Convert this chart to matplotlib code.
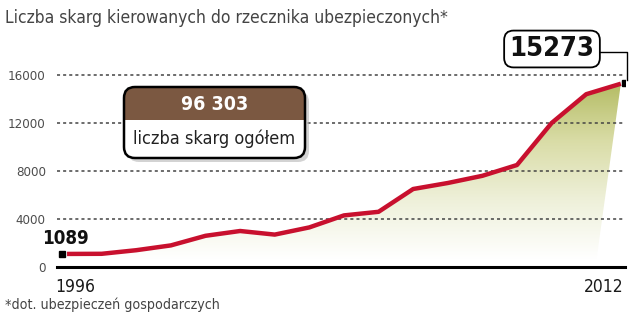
import numpy as np
import matplotlib
matplotlib.use("Agg")
import matplotlib.pyplot as plt
from matplotlib.colors import LinearSegmentedColormap
from matplotlib.patches import FancyBboxPatch, Polygon
from matplotlib.transforms import Affine2D, ScaledTranslation

years = np.arange(1996, 2013)
complaints = [1089, 1100, 1400, 1800, 2600, 3000, 2700, 3300, 4300, 4600,
              6500, 7000, 7600, 8500, 12000, 14400, 15273]
y_ticks = [0, 4000, 8000, 12000, 16000]
title = "Liczba skarg kierowanych do rzecznika ubezpieczonych*"
footnote = "*dot. ubezpieczeń gospodarczych"
total_label = "96 303"
total_caption = "liczba skarg ogółem"

FONT = dict(family="DejaVu Sans", fontstretch="condensed")
W, H = 639, 326

fig = plt.figure(figsize=(W / 100, H / 100), dpi=100)
# pixel coords with origin at top-left
px = Affine2D().scale(1, -1).translate(0, H).scale(1 / W, 1 / H) + fig.transFigure

ax = fig.add_axes([57 / W, (H - 267) / H, 568 / W, 207 / H])

# gradient area under the curve
poly_pts = list(zip(years, complaints)) + [(2011.3, 700), (years[0], 700)]
clip = Polygon(poly_pts, closed=True, transform=ax.transData, facecolor="none", edgecolor="none")
ax.add_patch(clip)
cmap = LinearSegmentedColormap.from_list("olive", ["#ffffff", "#eef0d9", "#d9dca6", "#b3bb62"])
grad = np.linspace(0, 1, 256).reshape(-1, 1)
im = ax.imshow(grad, cmap=cmap, origin="lower", aspect="auto",
               extent=[years[0], years[-1], 700, 15500], zorder=0.2)
im.set_clip_path(clip)
ax.set_xlim(1995.71, 2012.12)
ax.set_ylim(0, 17250)

ax.plot(years, complaints, color="#c8102e", lw=3.2, solid_joinstyle="round",
        solid_capstyle="butt", zorder=3)

# end markers, nudged outward a bit
ax.plot(years[0], complaints[0], "s", color="black", ms=5,
        transform=ax.transData + ScaledTranslation(-5 / 100, 0, fig.dpi_scale_trans), zorder=4)
ax.plot(years[-1], complaints[-1], "s", color="black", ms=5,
        transform=ax.transData + ScaledTranslation(4 / 100, 1 / 100, fig.dpi_scale_trans), zorder=4)

ax.set_yticks(y_ticks)
ax.set_yticklabels([str(v) for v in y_ticks], color="#4d4d4d", fontsize=9.5, **FONT)
ax.tick_params(axis="y", length=0, pad=8)
ax.set_xticks([])
ax.set_axisbelow("line")
ax.yaxis.grid(True, linestyle=(0, (2, 2)), color="#444444", lw=1.1)
for s in ["top", "right", "left"]:
    ax.spines[s].set_visible(False)
ax.spines["bottom"].set_color("black")
ax.spines["bottom"].set_linewidth(2.2)
ax.spines["bottom"].set_zorder(5)

ax.text(0, -11 / 207, str(years[0]), ha="left", va="top", fontsize=12.5, color="#1a1a1a",
        transform=ax.transAxes + ScaledTranslation(-2 / 100, 0, fig.dpi_scale_trans), **FONT)
ax.text(1, -11 / 207, str(years[-1]), ha="right", va="top", fontsize=12.5, color="#1a1a1a",
        transform=ax.transAxes + ScaledTranslation(-1 / 100, 0, fig.dpi_scale_trans), **FONT)

ax.annotate(f"{complaints[0]}", (years[0], complaints[0]), xytext=(-18, 4), textcoords="offset points",
            ha="left", va="bottom", fontsize=13.5, fontweight="bold", color="#111111", **FONT)

# last value callout
fig.text(552, 49, f"{complaints[-1]}", transform=px, ha="center", va="center",
         fontsize=19.5, fontweight="bold", color="#111111", **FONT,
         bbox=dict(boxstyle="round,pad=0.2,rounding_size=0.35", fc="white", ec="black", lw=1.3))
fig.lines.append(plt.Line2D([598, 627, 627], [52, 52, 80], transform=px, color="black", lw=1))

# total box with shadow
bx, by, bw, bh = 124, 87, 181, 71
shadow = FancyBboxPatch((bx + 4, by + 4), bw, bh, boxstyle="round,pad=0,rounding_size=11",
                        transform=px, fc="#b0b0b0", ec="none", alpha=0.55)
fig.patches.append(shadow)
white = FancyBboxPatch((bx, by), bw, bh, boxstyle="round,pad=0,rounding_size=11",
                       transform=px, fc="white", ec="none")
fig.patches.append(white)
brown = FancyBboxPatch((bx, by), bw, 33, boxstyle="round,pad=0,rounding_size=11",
                       transform=px, fc="#7b5841", ec="none")
fig.patches.append(brown)
brown_sq = FancyBboxPatch((bx, by + 20), bw, 13, boxstyle="square,pad=0",
                          transform=px, fc="#7b5841", ec="none")
fig.patches.append(brown_sq)
border = FancyBboxPatch((bx, by), bw, bh, boxstyle="round,pad=0,rounding_size=11",
                        transform=px, fc="none", ec="black", lw=1.8)
fig.patches.append(border)
fig.text(bx + bw / 2, by + 18, total_label, transform=px, ha="center", va="center",
         fontsize=14, fontweight="bold", color="white", **FONT)
fig.text(bx + bw / 2, by + 52, total_caption, transform=px, ha="center", va="center",
         fontsize=13, color="#222222", **FONT)

fig.text(5, 18, title, transform=px, ha="left", va="center", fontsize=12.5,
         color="#444444", **FONT)
fig.text(5, 305, footnote, transform=px, ha="left", va="center", fontsize=10.2,
         color="#444444", **FONT)

fig.savefig("out.png", dpi=100)
